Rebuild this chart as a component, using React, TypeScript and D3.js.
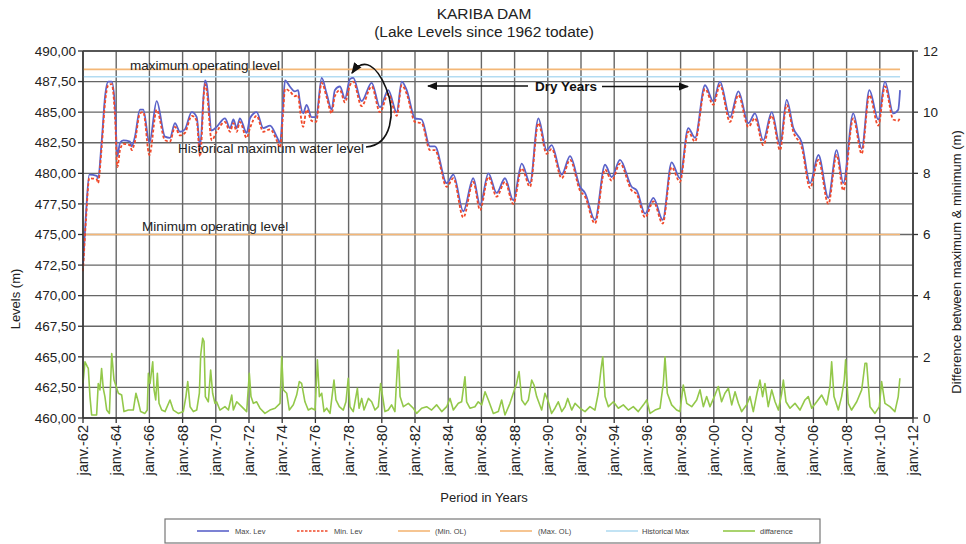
import React from 'react';
import * as d3 from 'd3';

const W = 966;
const H = 544;

// Lake level readings (decimal year)
const levelDates = [
  1962.0, 1962.18, 1962.38, 1962.83, 1962.9, 1963.13, 1963.33, 1963.52, 1963.73, 1963.93,
  1964.07, 1964.23, 1964.43, 1964.83, 1964.93, 1965.13, 1965.43, 1965.63, 1966.0, 1966.44,
  1966.94, 1967.24, 1967.54, 1967.84, 1968.14, 1968.55, 1968.85, 1969.05, 1969.35, 1969.45,
  1969.75, 1970.05, 1970.55, 1970.86, 1971.06, 1971.26, 1971.45, 1971.86, 1972.06, 1972.46,
  1972.86, 1973.27, 1973.67, 1973.87, 1974.05, 1974.17, 1974.46, 1974.76, 1974.96, 1975.06,
  1975.26, 1975.47, 1975.77, 1976.04, 1976.38, 1976.68, 1976.98, 1977.17, 1977.48, 1977.78,
  1978.08, 1978.28, 1978.78, 1979.39, 1979.89, 1980.39, 1980.9, 1981.2, 1981.5, 1982.0,
  1982.4, 1982.9, 1983.2, 1983.91, 1984.31, 1984.91, 1985.51, 1985.92, 1986.42, 1986.92,
  1987.42, 1987.92, 1988.43, 1988.93, 1989.43, 1989.93, 1990.23, 1990.84, 1991.34, 1991.94,
  1992.24, 1992.84, 1993.45, 1993.85, 1994.35, 1995.05, 1995.36, 1995.86, 1996.36, 1996.92,
  1997.46, 1997.96, 1998.46, 1998.87, 1999.47, 1999.97, 2000.37, 2000.98, 2001.48, 2002.08,
  2002.48, 2002.98, 2003.49, 2003.99, 2004.39, 2004.79, 2005.3, 2005.8, 2006.3, 2006.9,
  2007.4, 2007.8, 2008.4, 2008.91, 2009.37, 2009.91, 2010.31, 2010.81, 2011.11, 2011.22,
];

const maxLevel = [
  472.5, 476.7, 479.9, 479.8, 479.6, 482.7, 486.3, 487.5, 487.5, 485.4,
  481.4, 482.5, 482.7, 482.6, 482.2, 483.0, 485.2, 485.2, 482.5, 485.9,
  483.0, 482.9, 484.1, 483.4, 483.6, 485.0, 484.6, 482.2, 487.6, 487.3,
  483.5, 483.8, 484.5, 483.7, 484.4, 483.7, 484.5, 483.3, 484.5, 485.0,
  483.7, 483.9, 483.0, 482.5, 485.5, 487.6, 487.1, 486.7, 486.8, 485.9,
  484.9, 485.6, 484.6, 484.6, 487.8, 486.5, 485.2, 486.8, 487.1, 486.1,
  487.7, 487.8, 485.9, 487.4, 485.4, 486.8, 485.0, 487.5, 486.8, 484.5,
  484.4, 482.2, 482.2, 479.2, 479.9, 476.9, 479.6, 477.4, 480.0, 478.4,
  479.6, 477.8, 480.8, 479.2, 484.5, 481.9, 482.3, 479.9, 481.4, 478.9,
  478.4, 476.2, 480.7, 479.7, 481.1, 478.9, 478.6, 476.7, 478.0, 476.2,
  480.9, 479.6, 483.7, 482.9, 487.2, 485.9, 487.5, 484.6, 486.7, 484.1,
  484.9, 482.7, 485.0, 482.3, 486.0, 483.7, 482.5, 479.2, 481.5, 478.0,
  481.9, 479.2, 484.9, 482.0, 486.8, 484.4, 487.5, 484.9, 485.2, 486.8,
];

const minLevel = [
  472.0, 476.2, 479.6, 479.5, 479.2, 482.2, 485.8, 487.2, 487.3, 484.6,
  480.5, 481.9, 482.4, 482.3, 481.9, 482.6, 484.9, 485.0, 481.5, 485.2,
  482.7, 482.6, 483.8, 483.1, 483.3, 484.7, 484.3, 481.4, 487.3, 486.8,
  482.7, 483.4, 484.2, 483.4, 484.1, 483.4, 484.2, 482.9, 483.7, 484.7,
  483.4, 483.6, 482.7, 482.1, 484.8, 486.9, 486.7, 486.3, 486.4, 485.3,
  483.8, 485.2, 484.3, 484.2, 487.4, 486.2, 484.9, 486.3, 486.8, 485.8,
  487.2, 487.5, 485.5, 487.1, 485.0, 486.5, 484.7, 487.2, 486.5, 484.2,
  484.1, 481.9, 481.9, 478.9, 479.6, 476.4, 479.3, 477.0, 479.7, 478.1,
  479.3, 477.5, 480.4, 478.9, 484.1, 481.6, 482.0, 479.6, 481.1, 478.6,
  478.1, 475.9, 480.3, 479.4, 480.8, 478.6, 478.3, 476.4, 477.7, 475.9,
  480.5, 479.3, 483.4, 482.6, 486.9, 485.6, 487.2, 484.2, 486.4, 483.8,
  484.5, 482.3, 484.7, 481.9, 485.6, 483.4, 482.1, 478.8, 481.1, 477.5,
  481.5, 478.6, 484.5, 481.6, 486.4, 483.9, 487.1, 484.4, 484.3, 484.6,
];

// Difference between maximum & minimum (m)
const diffDates = [
  1962.0, 1962.12, 1962.26, 1962.32, 1962.42, 1962.52, 1962.82, 1962.92, 1963.02, 1963.12,
  1963.22, 1963.32, 1963.43, 1963.59, 1963.73, 1963.87, 1964.13, 1964.33, 1964.47, 1964.73,
  1965.03, 1965.19, 1965.33, 1965.47, 1965.73, 1965.87, 1965.94, 1966.04, 1966.2, 1966.28,
  1966.38, 1966.48, 1966.58, 1966.74, 1966.94, 1967.24, 1967.44, 1967.74, 1968.04, 1968.2,
  1968.31, 1968.45, 1968.65, 1968.85, 1969.01, 1969.09, 1969.21, 1969.29, 1969.37, 1969.55,
  1969.69, 1969.81, 1969.95, 1970.05, 1970.25, 1970.55, 1970.76, 1970.96, 1971.06, 1971.26,
  1971.56, 1971.86, 1972.02, 1972.12, 1972.26, 1972.46, 1972.66, 1972.96, 1973.26, 1973.57,
  1973.87, 1973.97, 1974.07, 1974.27, 1974.43, 1974.67, 1974.87, 1975.03, 1975.17, 1975.37,
  1975.57, 1975.77, 1975.98, 1976.12, 1976.24, 1976.38, 1976.52, 1976.68, 1976.88, 1977.12,
  1977.24, 1977.44, 1977.68, 1977.84, 1977.98, 1978.08, 1978.28, 1978.53, 1978.63, 1978.79,
  1978.93, 1979.19, 1979.39, 1979.59, 1979.79, 1979.93, 1980.05, 1980.19, 1980.39, 1980.59,
  1980.79, 1980.99, 1981.1, 1981.3, 1981.6, 1981.9, 1982.1, 1982.4, 1982.7, 1983.0,
  1983.3, 1983.61, 1983.91, 1984.11, 1984.31, 1984.61, 1984.81, 1985.01, 1985.11, 1985.31,
  1985.61, 1985.81, 1986.02, 1986.22, 1986.42, 1986.72, 1987.02, 1987.22, 1987.42, 1987.72,
  1987.92, 1988.12, 1988.27, 1988.43, 1988.63, 1988.83, 1989.03, 1989.17, 1989.33, 1989.63,
  1989.83, 1990.03, 1990.23, 1990.43, 1990.63, 1990.84, 1991.04, 1991.2, 1991.44, 1991.64,
  1991.94, 1992.24, 1992.54, 1992.84, 1993.04, 1993.2, 1993.31, 1993.45, 1993.65, 1993.95,
  1994.25, 1994.55, 1994.85, 1995.15, 1995.45, 1995.76, 1995.96, 1996.16, 1996.46, 1996.76,
  1996.96, 1997.06, 1997.2, 1997.46, 1997.76, 1997.96, 1998.16, 1998.37, 1998.67, 1998.97,
  1999.17, 1999.37, 1999.57, 1999.77, 2000.07, 2000.27, 2000.47, 2000.67, 2000.88, 2001.08,
  2001.28, 2001.48, 2001.68, 2001.98, 2002.18, 2002.38, 2002.62, 2002.78, 2002.94, 2003.08,
  2003.28, 2003.49, 2003.69, 2003.89, 2004.09, 2004.19, 2004.35, 2004.59, 2004.89, 2005.19,
  2005.49, 2005.69, 2005.9, 2006.2, 2006.5, 2006.8, 2007.0, 2007.1, 2007.24, 2007.5,
  2007.7, 2007.86, 2007.94, 2008.1, 2008.3, 2008.61, 2008.91, 2009.11, 2009.21, 2009.41,
  2009.71, 2009.97, 2010.11, 2010.31, 2010.61, 2010.91, 2011.11, 2011.21,
];

const diffValues = [
  1.13, 1.84, 1.68, 1.62, 0.7, 0.1, 0.1, 1.13, 0.92, 1.62,
  0.97, 0.7, 0.26, 0.15, 2.11, 1.24, 0.81, 0.75, 0.21, 0.26,
  0.26, 0.81, 0.53, 0.21, 0.15, 0.26, 1.46, 1.13, 1.84, 0.92,
  0.59, 1.46, 0.48, 0.26, 0.21, 0.59, 0.26, 0.15, 0.21, 0.7,
  1.19, 0.37, 0.21, 0.26, 0.81, 2.06, 2.61, 2.5, 0.7, 0.53,
  1.57, 0.81, 0.48, 0.53, 0.26, 0.37, 0.26, 0.75, 0.26, 0.53,
  0.37, 0.21, 1.46, 0.7, 0.48, 0.53, 0.32, 0.15, 0.26, 0.32,
  0.48, 2.0, 0.92, 0.81, 0.26, 0.43, 0.75, 1.19, 1.13, 0.53,
  0.26, 0.32, 0.26, 1.9, 0.7, 0.81, 0.21, 0.32, 0.15, 1.24,
  0.59, 0.37, 0.26, 0.53, 1.3, 0.37, 0.21, 0.97, 0.32, 0.64,
  0.26, 0.64, 0.53, 0.26, 0.37, 1.13, 0.7, 0.21, 0.26, 0.43,
  0.21, 2.22, 0.7, 0.37, 0.48, 0.32, 0.15, 0.32, 0.37, 0.26,
  0.43, 0.21, 0.37, 0.64, 0.26, 0.48, 0.53, 1.35, 0.53, 0.32,
  0.37, 0.53, 0.43, 0.86, 0.59, 0.15, 0.21, 0.59, 0.1, 0.48,
  0.81, 1.13, 1.52, 0.59, 0.43, 0.59, 1.24, 1.08, 0.7, 0.26,
  0.81, 0.53, 0.15, 0.32, 0.53, 0.21, 0.37, 0.64, 0.26, 0.48,
  0.32, 0.21, 0.37, 0.26, 0.81, 1.57, 2.0, 0.7, 0.37, 0.53,
  0.32, 0.43, 0.26, 0.37, 0.21, 0.43, 0.59, 0.15, 0.26, 0.32,
  1.13, 2.0, 0.81, 0.43, 0.26, 0.21, 1.08, 0.48, 0.37, 0.59,
  0.92, 0.37, 0.7, 0.37, 0.75, 1.03, 0.53, 0.81, 0.97, 0.43,
  0.86, 0.48, 0.21, 0.43, 0.7, 0.21, 0.86, 1.24, 0.7, 1.13,
  0.37, 0.92, 0.53, 0.26, 0.81, 1.24, 0.53, 0.32, 0.48, 0.26,
  0.59, 0.7, 0.32, 0.53, 0.75, 0.43, 1.03, 1.84, 0.7, 0.26,
  0.7, 1.24, 1.9, 0.48, 0.26, 0.53, 0.92, 1.79, 1.79, 0.37,
  0.15, 0.37, 1.19, 0.48, 0.37, 0.21, 0.7, 1.3,
];

const leftTicks = [460, 462.5, 465, 467.5, 470, 472.5, 475, 477.5, 480, 482.5, 485, 487.5, 490];
const leftTickLabels = ['460,00', '462,50', '465,00', '467,50', '470,00', '472,50', '475,00', '477,50', '480,00', '482,50', '485,00', '487,50', '490,00'];
const rightTicks = [0, 2, 4, 6, 8, 10, 12];
const yearTicks = [1962, 1964, 1966, 1968, 1970, 1972, 1974, 1976, 1978, 1980, 1982, 1984, 1986, 1988, 1990, 1992, 1994, 1996, 1998, 2000, 2002, 2004, 2006, 2008, 2010, 2012];
const yearLabels = ['janv.-62', 'janv.-64', 'janv.-66', 'janv.-68', 'janv.-70', 'janv.-72', 'janv.-74', 'janv.-76', 'janv.-78', 'janv.-80', 'janv.-82', 'janv.-84', 'janv.-86', 'janv.-88', 'janv.-90', 'janv.-92', 'janv.-94', 'janv.-96', 'janv.-98', 'janv.-00', 'janv.-02', 'janv.-04', 'janv.-06', 'janv.-08', 'janv.-10', 'janv.-12'];

const minOperatingLevel = 475;
const maxOperatingLevel = 488.5;
const historicalMaxLevel = 487.9;

const legendLabels = ['Max. Lev', 'Min. Lev', '(Min. OL)', '(Max. OL)', 'Historical Max', 'diffarence'];

const FONT = 'Liberation Sans, Arial, Helvetica, sans-serif';
const C_MAX = '#5b63c9';
const C_MIN = '#f0492a';
const C_OL = '#f4b777';
const C_HIST = '#b3dcf2';
const C_DIFF = '#93c84a';
const C_GRID = '#666666';

export default function App() {
  const left = 83, right = 913, top = 51, bottom = 418;
  const x = d3.scaleLinear().domain([1962, 2012]).range([left, right]);
  const yL = d3.scaleLinear().domain([460, 490]).range([bottom, top]);
  const yR = d3.scaleLinear().domain([0, 12]).range([bottom, top]);

  const levelLine = (vals: number[]) =>
    d3.line<number>()
      .x((_, i) => x(levelDates[i]))
      .y((d) => yL(d))
      .curve(d3.curveMonotoneX)(vals) || '';

  const diffLine = d3.line<number>()
    .x((_, i) => x(diffDates[i]))
    .y((d) => yR(d))
    .curve(d3.curveLinear)(diffValues) || '';

  const x0 = x(levelDates[0]);
  const x1 = x(levelDates[levelDates.length - 1]);

  const legendItems = [
    { label: legendLabels[0], color: C_MAX, dash: undefined, lx: 197, tx: 235 },
    { label: legendLabels[1], color: C_MIN, dash: '2.5,1.5', lx: 297, tx: 334 },
    { label: legendLabels[2], color: C_OL, dash: undefined, lx: 398, tx: 435 },
    { label: legendLabels[3], color: C_OL, dash: undefined, lx: 500, tx: 538 },
    { label: legendLabels[4], color: C_HIST, dash: undefined, lx: 606, tx: 642 },
    { label: legendLabels[5], color: C_DIFF, dash: undefined, lx: 723, tx: 760 },
  ];

  return (
    <svg width={W} height={H} style={{ position: 'absolute', left: 0, top: 0, background: '#fff' }} fontFamily={FONT}>
      <defs>
        <marker id="arrowR" viewBox="0 0 10 10" refX="9" refY="5" markerWidth="7" markerHeight="7" orient="auto">
          <path d="M0,1 L10,5 L0,9 Z" fill="#111" />
        </marker>
      </defs>
      <rect x={0} y={0} width={W} height={H} fill="#fff" />

      {/* Title */}
      <text x={484} y={19} textAnchor="middle" fontSize={15.5} fill="#222">KARIBA DAM</text>
      <text x={484} y={37} textAnchor="middle" fontSize={15.5} fill="#222">(Lake Levels since 1962 todate)</text>

      {/* Horizontal gridlines */}
      {leftTicks.map((t) => (
        <line key={'h' + t} x1={left} x2={right} y1={yL(t)} y2={yL(t)} stroke={C_GRID} strokeWidth={1.4} />
      ))}
      {/* Vertical gridlines */}
      {yearTicks.map((t) => (
        <line key={'v' + t} x1={x(t)} x2={x(t)} y1={top} y2={bottom} stroke={C_GRID} strokeWidth={1.4} />
      ))}

      {/* Reference lines */}
      <line x1={x0} x2={x1} y1={yL(maxOperatingLevel)} y2={yL(maxOperatingLevel)} stroke={C_OL} strokeWidth={1.6} />
      <line x1={x0} x2={x1} y1={yL(historicalMaxLevel)} y2={yL(historicalMaxLevel)} stroke={C_HIST} strokeWidth={1.6} />
      <line x1={x0} x2={x1} y1={yL(minOperatingLevel)} y2={yL(minOperatingLevel)} stroke={C_OL} strokeWidth={1.6} />

      {/* Difference series */}
      <path d={diffLine} fill="none" stroke={C_DIFF} strokeWidth={1.6} strokeLinejoin="round" />

      {/* Level series */}
      <path d={levelLine(maxLevel)} fill="none" stroke={C_MAX} strokeWidth={1.8} />
      <path d={levelLine(minLevel)} fill="none" stroke={C_MIN} strokeWidth={1.8} strokeDasharray="3,2" />

      {/* Axes */}
      <line x1={left} x2={left} y1={top} y2={bottom} stroke="#333" strokeWidth={1.5} />
      <line x1={right} x2={right} y1={top} y2={bottom} stroke="#333" strokeWidth={1.5} />
      <line x1={left} x2={right} y1={bottom} y2={bottom} stroke="#333" strokeWidth={1.6} />
      <line x1={left} x2={right} y1={top} y2={top} stroke="#444" strokeWidth={1.5} />

      {leftTicks.map((t, i) => (
        <g key={'lt' + t}>
          <line x1={left - 5} x2={left} y1={yL(t)} y2={yL(t)} stroke="#333" strokeWidth={1.3} />
          <text x={left - 7} y={yL(t)} dy="0.35em" textAnchor="end" fontSize={13.5} fill="#222">{leftTickLabels[i]}</text>
        </g>
      ))}
      {rightTicks.map((t) => (
        <g key={'rt' + t}>
          <line x1={right} x2={right + 5} y1={yR(t)} y2={yR(t)} stroke="#333" strokeWidth={1.3} />
          <text x={right + 10} y={yR(t)} dy="0.35em" textAnchor="start" fontSize={13.5} fill="#222">{t}</text>
        </g>
      ))}
      {yearTicks.map((t, i) => (
        <g key={'xt' + t}>
          <line x1={x(t)} x2={x(t)} y1={bottom} y2={bottom + 5} stroke="#333" strokeWidth={1.3} />
          <text transform={`translate(${x(t)},${bottom + 7}) rotate(-90)`} dy="0.35em" textAnchor="end" fontSize={14.5} fill="#222">{yearLabels[i]}</text>
        </g>
      ))}

      {/* Axis titles */}
      <text transform="translate(15,299) rotate(-90)" textAnchor="middle" dy="0.35em" fontSize={13} fill="#222">Levels (m)</text>
      <text transform="translate(956,262) rotate(-90)" textAnchor="middle" dy="0.35em" fontSize={13} fill="#222">Difference between maximum &amp; minimum (m)</text>
      <text x={484} y={502} textAnchor="middle" fontSize={13} fill="#222">Period in Years</text>

      {/* Annotations */}
      <text x={130} y={65} dy="0.35em" fontSize={13.5} fill="#222">maximum operating level</text>
      <text x={178} y={148} dy="0.35em" fontSize={13.5} fill="#222">Historical maximum water level</text>
      <text x={142} y={226} dy="0.35em" fontSize={13.5} fill="#222">Minimum operating level</text>
      <path d="M366,147 C392,145 396,112 386,88 C377,66 364,56 352,73" fill="none" stroke="#111" strokeWidth={1.6} markerEnd="url(#arrowR)" />

      <text x={566} y={86} dy="0.35em" textAnchor="middle" fontSize={13.5} fontWeight="bold" fill="#111">Dry Years</text>
      <line x1={528} x2={428} y1={86} y2={86} stroke="#111" strokeWidth={1.5} markerEnd="url(#arrowR)" />
      <line x1={602} x2={688} y1={86.5} y2={86.5} stroke="#111" strokeWidth={1.5} markerEnd="url(#arrowR)" />

      {/* Legend */}
      <rect x={165} y={519} width={655} height={24} fill="#fff" stroke="#777" strokeWidth={1.2} />
      {legendItems.map((it) => (
        <g key={it.label}>
          <line x1={it.lx} x2={it.lx + 32} y1={531} y2={531} stroke={it.color} strokeWidth={1.6} strokeDasharray={it.dash} />
          <text x={it.tx} y={531} dy="0.35em" fontSize={7.5} fill="#444">{it.label}</text>
        </g>
      ))}
    </svg>
  );
}
